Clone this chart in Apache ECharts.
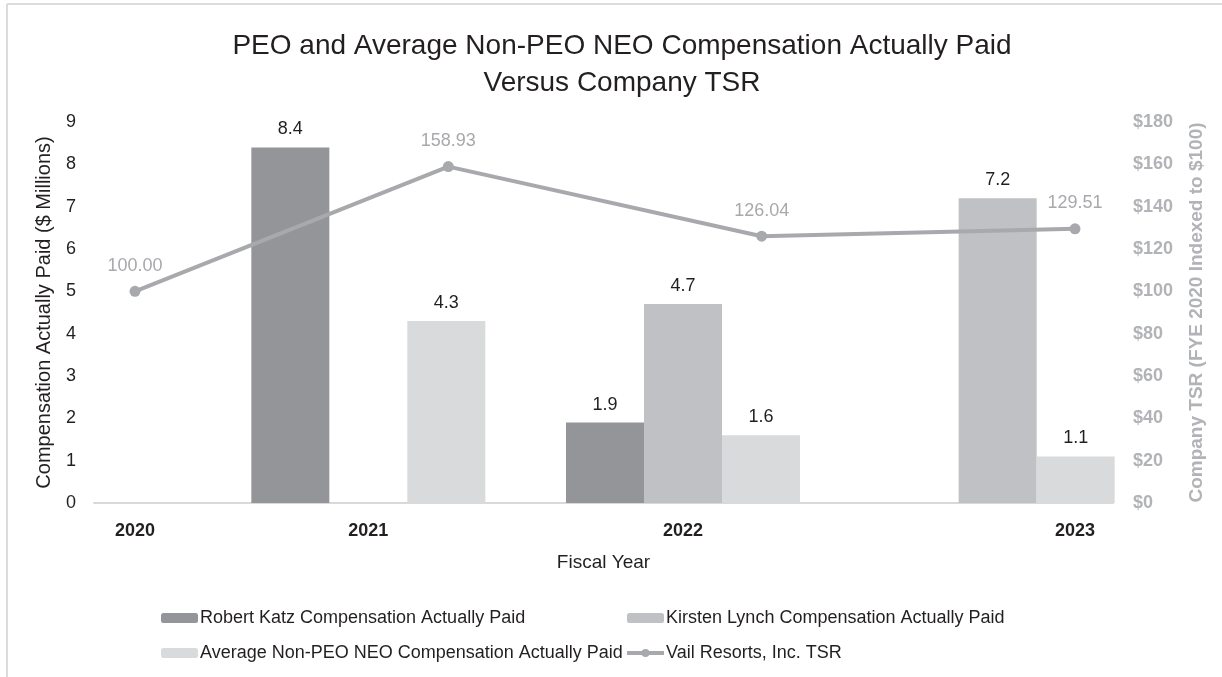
<!DOCTYPE html>
<html>
<head>
<meta charset="utf-8">
<script src="https://cdn.jsdelivr.net/npm/echarts@6/dist/echarts.min.js"></script>
<style>
  html, body { margin: 0; padding: 0; background: #fff; }
  #main { width: 1222px; height: 677px; }
</style>
</head>
<body>
<div id="main"></div>
<script>
"use strict";

// fiscal years
var years = ['2020', '2021', '2022', '2023'];
var barYears = ['2021', '2022', '2023'];

// compensation actually paid ($ millions), per bar year
var katzPaid = [8.4, 1.9, null];
var lynchPaid = [null, 4.7, 7.2];
var avgNeoPaid = [4.3, 1.6, 1.1];

// company TSR, FYE 2020 indexed to $100
var tsr = [100.00, 158.93, 126.04, 129.51];

var dark = '#231f20';
var lightText = '#b1b3b6';
var font = 'Liberation Sans, Arial, sans-serif';

var dom = document.getElementById('main');
var myChart = echarts.init(dom);

var barLabel = { show: true, position: 'top', distance: 9, fontSize: 18, color: dark };

var option = {
    backgroundColor: '#fff',
    textStyle: { fontFamily: font },
    animation: false,
    title: {
        text: 'PEO and Average Non-PEO NEO Compensation Actually Paid\nVersus Company TSR',
        left: 617,
        textAlign: 'center',
        top: 23,
        textStyle: { fontSize: 28, fontWeight: 'normal', color: dark, lineHeight: 37, fontFamily: font }
    },
    graphic: [
        { type: 'line', shape: { x1: 7, y1: 4, x2: 7, y2: 677 }, style: { stroke: '#dcdcdc', lineWidth: 2 } },
        { type: 'line', shape: { x1: 7, y1: 4, x2: 1222, y2: 4 }, style: { stroke: '#dcdcdc', lineWidth: 2 } }
    ],
    legend: [
        {
            orient: 'vertical',
            left: 156,
            top: 604,
            itemWidth: 37,
            itemHeight: 10,
            itemGap: 17,
            textStyle: { fontSize: 18, color: dark, padding: [0, 0, 0, -3] },
            data: ['Robert Katz Compensation Actually Paid', 'Average Non-PEO NEO Compensation Actually Paid']
        },
        {
            orient: 'vertical',
            left: 620,
            top: 604,
            itemWidth: 37,
            itemHeight: 10,
            itemGap: 17,
            lineStyle: { width: 4 },
            textStyle: { fontSize: 18, color: dark, padding: [0, 0, 0, -3] },
            data: ['Kirsten Lynch Compensation Actually Paid', 'Vail Resorts, Inc. TSR']
        }
    ],
    grid: [
        { left: 94, right: 109, top: 122, bottom: 174 },
        { left: 211, right: 67, top: 122, bottom: 174 },
        { left: 135, right: 147, top: 122, bottom: 174 }
    ],
    xAxis: [
        {
            gridIndex: 0,
            type: 'value',
            min: 0,
            max: 1,
            axisLine: { show: true, lineStyle: { color: '#d9d9d9', width: 2 } },
            axisTick: { show: false },
            axisLabel: { show: false },
            splitLine: { show: false },
            name: 'Fiscal Year',
            nameLocation: 'middle',
            nameGap: 50,
            nameTextStyle: { fontSize: 19, color: dark }
        },
        {
            gridIndex: 1,
            type: 'category',
            data: barYears,
            axisLine: { show: false },
            axisTick: { show: false },
            axisLabel: {
                fontSize: 18,
                fontWeight: 'bold',
                color: dark,
                margin: 19,
                interval: function (i) { return i < 2; }
            }
        },
        {
            gridIndex: 2,
            type: 'category',
            data: years,
            boundaryGap: false,
            axisLine: { show: false },
            axisTick: { show: false },
            axisLabel: {
                fontSize: 18,
                fontWeight: 'bold',
                color: dark,
                margin: 19,
                interval: function (i) { return i === 0 || i === 3; }
            }
        }
    ],
    yAxis: [
        {
            gridIndex: 0,
            type: 'value',
            position: 'left',
            min: 0,
            max: 9,
            interval: 1,
            axisLine: { show: false },
            axisTick: { show: false },
            splitLine: { show: false },
            axisLabel: { fontSize: 18, color: dark, margin: 18 },
            name: 'Compensation Actually Paid ($ Millions)',
            nameLocation: 'middle',
            nameRotate: 90,
            nameGap: 40,
            nameTextStyle: { fontSize: 20, color: dark }
        },
        {
            gridIndex: 0,
            type: 'value',
            position: 'right',
            min: 0,
            max: 180,
            interval: 20,
            axisLine: { show: false },
            axisTick: { show: false },
            splitLine: { show: false },
            axisLabel: { fontSize: 18, color: lightText, fontWeight: 'bold', margin: 20, formatter: '${value}' },
            name: 'Company TSR (FYE 2020 Indexed to $100)',
            nameLocation: 'middle',
            nameRotate: 90,
            nameGap: 74,
            nameTextStyle: { fontSize: 19, color: lightText, fontWeight: 'bold' }
        },
        { gridIndex: 1, type: 'value', min: 0, max: 9, show: false },
        { gridIndex: 2, type: 'value', min: 0, max: 180, show: false }
    ],
    series: [
        {
            name: 'Robert Katz Compensation Actually Paid',
            type: 'bar',
            xAxisIndex: 1,
            yAxisIndex: 2,
            barWidth: 78,
            barGap: '0%',
            itemStyle: { color: '#939598' },
            label: barLabel,
            data: katzPaid
        },
        {
            name: 'Kirsten Lynch Compensation Actually Paid',
            type: 'bar',
            xAxisIndex: 1,
            yAxisIndex: 2,
            barWidth: 78,
            barGap: '0%',
            itemStyle: { color: '#c0c1c4' },
            label: barLabel,
            data: lynchPaid
        },
        {
            name: 'Average Non-PEO NEO Compensation Actually Paid',
            type: 'bar',
            xAxisIndex: 1,
            yAxisIndex: 2,
            barWidth: 78,
            barGap: '0%',
            itemStyle: { color: '#d9dadb' },
            label: barLabel,
            data: avgNeoPaid
        },
        {
            name: 'Vail Resorts, Inc. TSR',
            type: 'line',
            xAxisIndex: 2,
            yAxisIndex: 3,
            symbol: 'circle',
            symbolSize: 11,
            lineStyle: { color: '#a7a9ac', width: 4 },
            itemStyle: { color: '#a7a9ac' },
            label: {
                show: true,
                position: 'top',
                distance: 11,
                fontSize: 18,
                color: '#a7a9ac',
                formatter: function (p) { return p.value.toFixed(2); }
            },
            data: tsr
        }
    ]
};

if (option && typeof option === 'object') {
    myChart.setOption(option);
}
</script>
</body>
</html>
